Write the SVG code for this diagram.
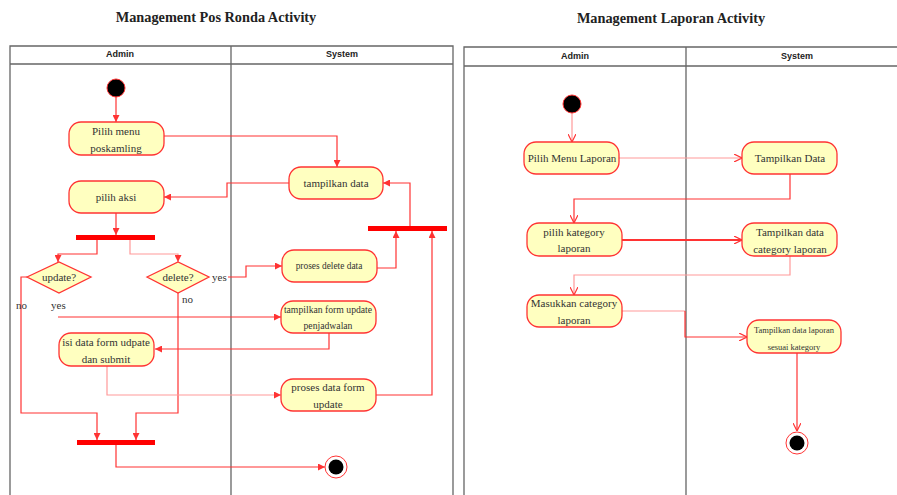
<svg xmlns="http://www.w3.org/2000/svg" width="897" height="495" viewBox="0 0 897 495">
<style>
.title{font-family:"Liberation Serif",serif;font-weight:bold;font-size:14.3px;fill:#222}
.lane{font-family:"Liberation Sans",sans-serif;font-weight:bold;font-size:9px;fill:#222}
.frame{fill:none;stroke:#666;stroke-width:1.3}
.node rect{fill:#FFFFC0;stroke:#F33;stroke-width:1.3}
.node text,.lbl{font-family:"Liberation Serif",serif;font-size:11px;fill:#333;text-anchor:middle}
.node .s8{font-size:9.4px}
.node .s9{font-size:9.7px}
.node .s85{font-size:8.5px}
.lbl{text-anchor:start}
.dia{fill:#FFFFC0;stroke:#F33;stroke-width:1.3}
.bar{fill:#F00}
.start{fill:#000;stroke:#F33;stroke-width:1}
.fin-o{fill:none;stroke:#F33;stroke-width:1}
.conn path{fill:none;stroke:#F33;stroke-width:1.2}
.conn .a{marker-end:url(#ah)}
.conn .o{marker-end:url(#ao)}
.conn .lt{stroke:#F99}
</style>
<defs>
<marker id="ah" viewBox="0 0 10 10" refX="10" refY="5" markerWidth="7" markerHeight="7" markerUnits="userSpaceOnUse" orient="auto">
<path d="M0,0 L10,5 L0,10 z" fill="#F33"/>
</marker>
<marker id="ao" viewBox="0 0 10 10" refX="10" refY="5" markerWidth="8" markerHeight="8" markerUnits="userSpaceOnUse" orient="auto">
<path d="M0,0 L10,5 L0,10" fill="none" stroke="#F33" stroke-width="1.5"/>
</marker>
</defs>

<text class="title" x="216" y="22" text-anchor="middle">Management Pos Ronda Activity</text>
<text class="title" x="671" y="23" text-anchor="middle">Management Laporan Activity</text>

<g id="frame-left">
<path class="frame" d="M10,495 V46 H453 V495 M10,64 H453 M231,46 V495"/>
<text class="lane" x="120" y="57" text-anchor="middle">Admin</text>
<text class="lane" x="342" y="57" text-anchor="middle">System</text>
</g>
<g id="frame-right">
<path class="frame" d="M464,495 V47 H897 M464,66 H897 M686,47 V495"/>
<text class="lane" x="575" y="59" text-anchor="middle">Admin</text>
<text class="lane" x="797" y="59" text-anchor="middle">System</text>
</g>

<g class="conn" id="connectors">
<path class="a" d="M116,97 V122"/>
<path class="a" d="M164,136 H337 V167"/>
<path class="a" d="M289,183 H227 V197 H164"/>
<path class="a" d="M116,213 V235"/>
<path class="a" d="M97,240 V254 H58 V262"/>
<path class="a lt" d="M130,240 V254 H178 V262"/>
<path class="a" d="M228,277 H246 V266 H282"/>
<path class="a" d="M377,268 H396 V231"/>
<path class="a" d="M410,226 V183 H383"/>
<path class="a" d="M58,317 H281"/>
<path class="a" d="M27,277 H21 V413 H97 V440"/>
<path class="a" d="M178,293 V413 H136 V440"/>
<path class="a" d="M329,333 V349 H155"/>
<path class="a lt" d="M107,366 V395 H281"/>
<path class="a" d="M376,395 H432 V231"/>
<path class="a" d="M116,445 V467 H325"/>

<path class="o lt" d="M572,113 V142"/>
<path class="o lt" d="M619,158 H742"/>
<path class="o" d="M790,174 V199 H574 V223"/>
<path class="o" d="M622,240 H742" style="stroke-width:1.8"/>
<path class="o lt" d="M790,256 V275 H574 V295"/>
<path class="lt" d="M622,311 H685"/>
<path class="o" d="M685,311 V337 H747"/>
<path class="o" d="M797,353 V431"/>
</g>

<g id="start1"><circle class="start" cx="116" cy="88" r="9"/></g>
<g id="n-pilih-menu" class="node"><rect x="69" y="122" width="95" height="33" rx="12"/><text x="116" y="135">Pilih menu</text><text x="116" y="152">poskamling</text></g>
<g id="n-tampilkan-data" class="node"><rect x="289" y="167" width="94" height="32" rx="12"/><text x="336" y="187">tampilkan data</text></g>
<g id="n-pilih-aksi" class="node"><rect x="69" y="181" width="95" height="32" rx="12"/><text x="116" y="201">pilih aksi</text></g>
<g id="fork1"><rect class="bar" x="76" y="235" width="79" height="5"/></g>
<g id="d-update"><path class="dia" d="M27,277 L59,262 L91,277 L59,293 z"/><text class="lbl" x="59" y="281" style="text-anchor:middle">update?</text></g>
<g id="d-delete"><path class="dia" d="M147,277 L178,262 L209,277 L178,293 z"/><text class="lbl" x="178" y="281" style="text-anchor:middle">delete?</text></g>
<g id="labels">
<text class="lbl" x="212" y="281">yes</text>
<text class="lbl" x="51" y="309">yes</text>
<text class="lbl" x="16" y="309">no</text>
<text class="lbl" x="182" y="303">no</text>
</g>
<g id="n-proses-delete" class="node"><rect x="282" y="250" width="95" height="32" rx="12"/><text class="s8" x="329" y="269">proses delete data</text></g>
<g id="join-sys"><rect class="bar" x="368" y="226" width="79" height="5"/></g>
<g id="n-tampilkan-form" class="node"><rect x="281" y="301" width="95" height="32" rx="12"/><text class="s9" x="328" y="313">tampilkan form update</text><text class="s9" x="328" y="329">penjadwalan</text></g>
<g id="n-isi-data" class="node"><rect x="59" y="333" width="95" height="33" rx="12"/><text x="106" y="346">isi data form udpate</text><text x="106" y="363">dan submit</text></g>
<g id="n-proses-form" class="node"><rect x="281" y="379" width="95" height="32" rx="12"/><text x="328" y="391">proses data form</text><text x="328" y="408">update</text></g>
<g id="join1"><rect class="bar" x="77" y="440" width="78" height="5"/></g>
<g id="final1"><circle class="fin-o" cx="336" cy="467" r="11"/><circle cx="336" cy="467" r="7.5" fill="#000"/></g>

<g id="start2"><circle class="start" cx="572" cy="104" r="9"/></g>
<g id="n-pilih-menu-laporan" class="node"><rect x="524" y="142" width="95" height="32" rx="12"/><text x="572" y="162">Pilih Menu Laporan</text></g>
<g id="n-tampilkan-data2" class="node"><rect x="742" y="142" width="95" height="32" rx="12"/><text x="790" y="162">Tampilkan Data</text></g>
<g id="n-pilih-kategory" class="node"><rect x="527" y="223" width="95" height="33" rx="12"/><text x="574" y="236">pilih kategory</text><text x="574" y="252">laporan</text></g>
<g id="n-tampilkan-category" class="node"><rect x="742" y="223" width="95" height="33" rx="12"/><text x="790" y="236">Tampilkan data</text><text x="790" y="253">category laporan</text></g>
<g id="n-masukkan" class="node"><rect x="527" y="295" width="95" height="32" rx="12"/><text x="574" y="307">Masukkan category</text><text x="574" y="324">laporan</text></g>
<g id="n-tampilkan-laporan" class="node"><rect x="747" y="320" width="94" height="33" rx="12"/><text class="s85" x="794" y="333">Tampilkan data laporan</text><text class="s85" x="794" y="350">sesuai kategory</text></g>
<g id="final2"><circle class="fin-o" cx="797" cy="443" r="11"/><circle cx="797" cy="443" r="7.5" fill="#000"/></g>
</svg>
